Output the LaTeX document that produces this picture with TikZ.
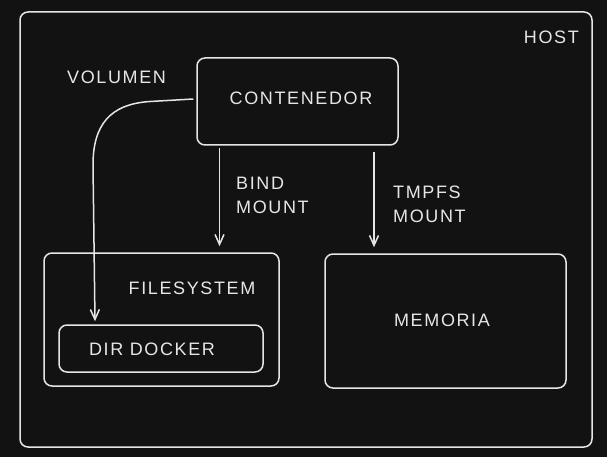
\documentclass[tikz,border=0pt]{standalone}
\usepackage{fontspec}
\setmainfont[LetterSpace=9]{Liberation Sans}
\usetikzlibrary{arrows.meta,positioning}
\definecolor{bg}{HTML}{121212}
\definecolor{ink}{HTML}{E6E6E6}

\begin{document}
\begin{tikzpicture}[x=1pt, y=-1pt, font=\fontsize{18}{24}\selectfont, text=ink,
  box/.style={draw=ink, line width=1.5pt, rounded corners=8pt, inner sep=0pt},
  lbl/.style={inner sep=0pt, align=left},
  arr/.style={draw=ink, line width=1.5pt, -{Straight Barb[length=10pt,width=9pt]}}]
% fondo
\fill[bg] (0,0) rectangle (607,457);
\useasboundingbox (0,0) rectangle (607,457);

% cajas
\node[box, minimum width=572pt, minimum height=435pt] (host) at (306,229.5) {};
\node[box, minimum width=201pt, minimum height=87pt] (cont) at (297.5,101.5) {};
\node[box, minimum width=235pt, minimum height=133pt] (fs) at (161.5,319.5) {};
\node[box, minimum width=204pt, minimum height=47pt] (dir) at (161,348.5) {};
\node[box, minimum width=241pt, minimum height=134pt] (mem) at (445.5,321) {};

% textos
\node[lbl, anchor=east] (hostlbl) at (579,37) {HOST};
\node[lbl, anchor=west] (vollbl) at (67,77) {VOLUMEN};
\node[lbl] (contlbl) at (301,98) {CONTENEDOR};
\node[lbl] (fslbl) at (192,288) {FILESYSTEM};
\node[lbl] (dirlbl) at (152,349) {DIR DOCKER};
\node[lbl] (memlbl) at (442,320) {MEMORIA};
\node[lbl, anchor=west] (bindlbl) at (236,195) {BIND\\MOUNT};
\node[lbl, anchor=west] (tmplbl) at (393,204.5) {TMPFS\\MOUNT};

% flechas
\coordinate (bindx) at (219.5,0);
\coordinate (tmpx) at (374,0);
\draw[arr, shorten <=2pt, shorten >=6pt] (cont.south -| bindx) -- (fs.north -| bindx);
\draw[arr, shorten <=6pt, shorten >=6pt] (cont.south -| tmpx) -- (mem.north -| tmpx);
\draw[arr] ([xshift=-3pt,yshift=2.5pt]cont.west) -- (150,101.5)
  .. controls (110,104) and (93,125) .. (93,165) -- ([xshift=-66pt,yshift=3pt]dir.north);
\end{tikzpicture}
\end{document}
